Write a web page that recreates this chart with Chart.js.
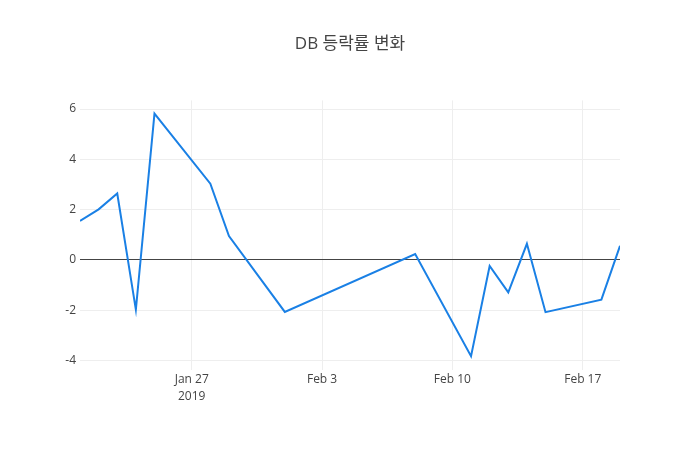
<!DOCTYPE html>
<html>
<head>
<meta charset="utf-8">
<script src="https://cdn.jsdelivr.net/npm/chart.js@4"></script>
<style>
  body { margin: 0; background: #fff; }
  #wrap { width: 700px; height: 450px; }
</style>
</head>
<body>
<div id="wrap"><canvas id="chart"></canvas></div>
<script>
const dates = ['2019-01-21', '2019-01-22', '2019-01-23', '2019-01-24', '2019-01-25', '2019-01-28',
               '2019-01-29', '2019-02-01', '2019-02-08', '2019-02-11', '2019-02-12', '2019-02-13',
               '2019-02-14', '2019-02-15', '2019-02-18', '2019-02-19'];
const changes = [1.55, 2.01, 2.64, -1.98, 5.82, 3.03, 0.95, -2.07, 0.23, -3.83, -0.24, -1.29,
                 0.64, -2.08, -1.58, 0.56];
const tickDates = ['2019-01-27', '2019-02-03', '2019-02-10', '2019-02-17'];
const tickLabels = [['Jan 27', '2019'], 'Feb 3', 'Feb 10', 'Feb 17'];

const start = Date.UTC(2019, 0, 21);
function dayIndex(s) {
    const p = s.split('-');
    return (Date.UTC(+p[0], +p[1] - 1, +p[2]) - start) / 86400000;
}

const points = dates.map((d, i) => ({ x: dayIndex(d), y: changes[i] }));
const tickPos = tickDates.map(dayIndex);
const font = '"Open Sans", "Noto Sans CJK KR", sans-serif';

new Chart(document.getElementById('chart').getContext('2d'), {
    type: 'line',
    data: {
        datasets: [{
            data: points,
            borderColor: '#1a80e5',
            borderWidth: 2,
            pointRadius: 0,
            tension: 0,
            fill: false
        }]
    },
    options: {
        responsive: true,
        maintainAspectRatio: false,
        animation: false,
        layout: { padding: 0 },
        plugins: {
            legend: { display: false },
            tooltip: { enabled: false },
            title: {
                display: true,
                text: 'DB 등락률 변화',
                color: '#444',
                font: { family: font, size: 17, weight: 'normal' },
                padding: { top: 34, bottom: 46 }
            }
        },
        scales: {
            x: {
                type: 'linear',
                min: 0,
                max: dayIndex('2019-02-19'),
                afterBuildTicks: axis => { axis.ticks = tickPos.map(v => ({ value: v })); },
                afterFit: axis => { axis.height = 80; },
                grid: { color: '#eee', drawTicks: false },
                border: { display: false },
                ticks: {
                    color: '#444',
                    padding: 1,
                    maxRotation: 0,
                    font: { family: font, size: 12, lineHeight: '17px' },
                    callback: (v, i) => tickLabels[i]
                }
            },
            y: {
                min: -4.38,
                max: 6.345,
                afterBuildTicks: axis => { axis.ticks = [-4, -2, 0, 2, 4, 6].map(v => ({ value: v })); },
                afterFit: axis => { axis.width = 80; },
                grid: {
                    drawTicks: false,
                    color: ctx => ctx.tick && ctx.tick.value === 0 ? '#444' : '#eee',
                    lineWidth: 1
                },
                border: { display: false },
                ticks: {
                    color: '#444',
                    padding: 4,
                    font: { family: font, size: 12 }
                }
            },
            right: {
                position: 'right',
                min: 0,
                max: 1,
                afterFit: axis => { axis.width = 80; },
                grid: { display: false },
                border: { display: false },
                ticks: { display: false }
            }
        }
    }
});
</script>
</body>
</html>
